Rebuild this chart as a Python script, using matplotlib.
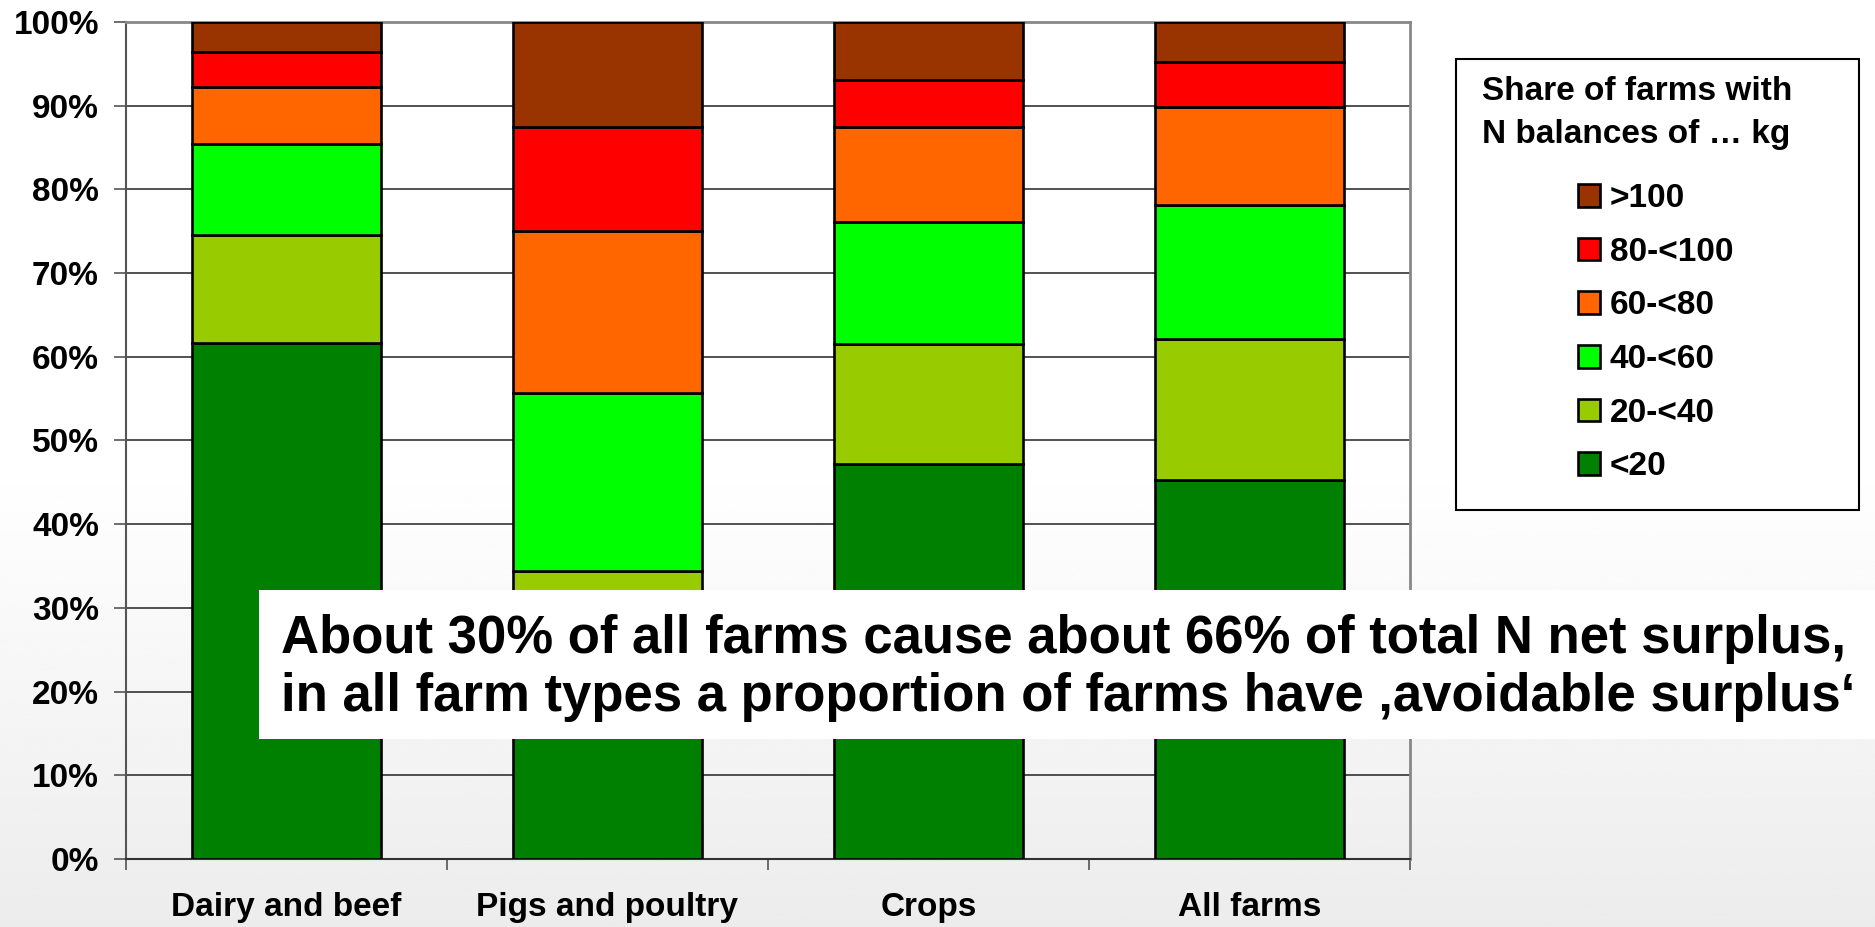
import matplotlib
matplotlib.use("Agg")
import matplotlib.pyplot as plt
import numpy as np
from matplotlib.patches import Rectangle
from matplotlib.ticker import FixedLocator, PercentFormatter

# ---------------- data ----------------
categories = ["Dairy and beef", "Pigs and poultry", "Crops", "All farms"]
classes = ["<20", "20-<40", "40-<60", "60-<80", "80-<100", ">100"]
share_lt20 = [61.6, 25.0, 47.2, 45.3]
share_20_40 = [13.0, 9.4, 14.3, 16.8]
share_40_60 = [10.8, 21.3, 14.6, 16.0]
share_60_80 = [6.8, 19.3, 11.4, 11.75]
share_80_100 = [4.25, 12.5, 5.6, 5.35]
share_gt100 = [3.55, 12.5, 6.9, 4.8]
class_colors = ["#008000", "#99CC00", "#00FF00", "#FF6600", "#FF0000", "#993300"]
yticks = [0, 10, 20, 30, 40, 50, 60, 70, 80, 90, 100]
legend_title = "Share of farms with\nN balances of … kg"
note_text = ("About 30% of all farms cause about 66% of total N net surplus,\n"
             "in all farm types a proportion of farms have \u201aavoidable surplus\u2018")

series = [share_lt20, share_20_40, share_40_60, share_60_80, share_80_100, share_gt100]

FONT = "Liberation Sans"
W, H = 1875, 927
fig = plt.figure(figsize=(W / 100, H / 100), dpi=100)
fig.patch.set_facecolor("white")

# background gradient (white top -> light gray bottom)
bg = fig.add_axes([0, 0, 1, 1], zorder=-10)
yy = np.linspace(0, 1, 400)  # 0 = bottom
top_white = 0.50
vals = np.where(yy > top_white, 1.0, 1.0 - (top_white - yy) / top_white * (1 - 0.925))
grad = np.tile(vals[:, None], (1, 2))
bg.imshow(grad, cmap="gray", vmin=0, vmax=1, aspect="auto", origin="lower",
          extent=[0, 1, 0, 1])
bg.set_axis_off()

ax = fig.add_axes([126 / W, 1 - 859 / H, (1410 - 126) / W, (859 - 22) / H])
ax.set_facecolor("none")

x = np.arange(len(categories))
bottom = np.zeros(len(categories))
bars = []
for vals_s, col, lab in zip(series, class_colors, classes):
    b = ax.bar(x, vals_s, bottom=bottom, width=0.586, color=col, edgecolor="black",
               linewidth=1.9, label=lab, zorder=3)
    bars.append(b)
    bottom += np.array(vals_s)

ax.set_xlim(-0.5, len(categories) - 0.5)
ax.set_ylim(0, 100)
ax.yaxis.set_major_locator(FixedLocator(yticks))
ax.yaxis.set_major_formatter(PercentFormatter(decimals=0))

for yv in yticks[1:-1]:
    ax.axhline(yv, color="#222222", lw=1.1, zorder=1)

for s in ["top", "right"]:
    ax.spines[s].set_color("#888888")
    ax.spines[s].set_linewidth(2)
ax.spines["left"].set_color("#555555")
ax.spines["left"].set_linewidth(1.5)
ax.spines["bottom"].set_color("#333333")
ax.spines["bottom"].set_linewidth(1.5)

ax.set_xticks(x)
ax.set_xticklabels(categories)
ax.set_xticks(np.arange(-0.5, len(categories), 1.0), minor=True)
ax.tick_params(axis="x", which="major", length=0, pad=24)
ax.tick_params(axis="x", which="minor", length=8, width=1.2, color="#555555")
ax.tick_params(axis="y", which="major", length=8.5, width=1.2, color="#555555", pad=11)
for lab in ax.get_xticklabels() + ax.get_yticklabels():
    lab.set_fontfamily(FONT)
    lab.set_fontweight("bold")
    lab.set_fontsize(24)

# legend box
fig.patches.append(Rectangle((1456 / W, 1 - 510 / H), (1859 - 1456) / W, (510 - 59) / H,
                             transform=fig.transFigure, facecolor="white",
                             edgecolor="black", linewidth=1.5, zorder=5))
fig.text(1482 / W, 1 - 76 / H, legend_title, family=FONT, weight="bold", fontsize=24,
         ha="left", va="top", linespacing=1.5, zorder=6)
handles = [b.patches[0] for b in bars][::-1]
leg = fig.legend(handles, classes[::-1], loc="upper left",
                 bbox_to_anchor=(1578 / W, 1 - 183 / H), frameon=False,
                 prop={"family": FONT, "weight": "bold", "size": 24},
                 handlelength=0.66, handleheight=0.66, handletextpad=0.3,
                 labelspacing=0.68, borderpad=0, borderaxespad=0)
leg.set_zorder(7)

# annotation box
fig.patches.append(Rectangle((259 / W, 1 - 739 / H), (W - 259) / W, (739 - 590) / H,
                             transform=fig.transFigure, facecolor="white",
                             edgecolor="none", zorder=8))
fig.text(281 / W, 1 - 668 / H, note_text, family=FONT, weight="bold", fontsize=38.0,
         ha="left", va="center", linespacing=1.22, zorder=9)

fig.savefig("out.png", dpi=100)
